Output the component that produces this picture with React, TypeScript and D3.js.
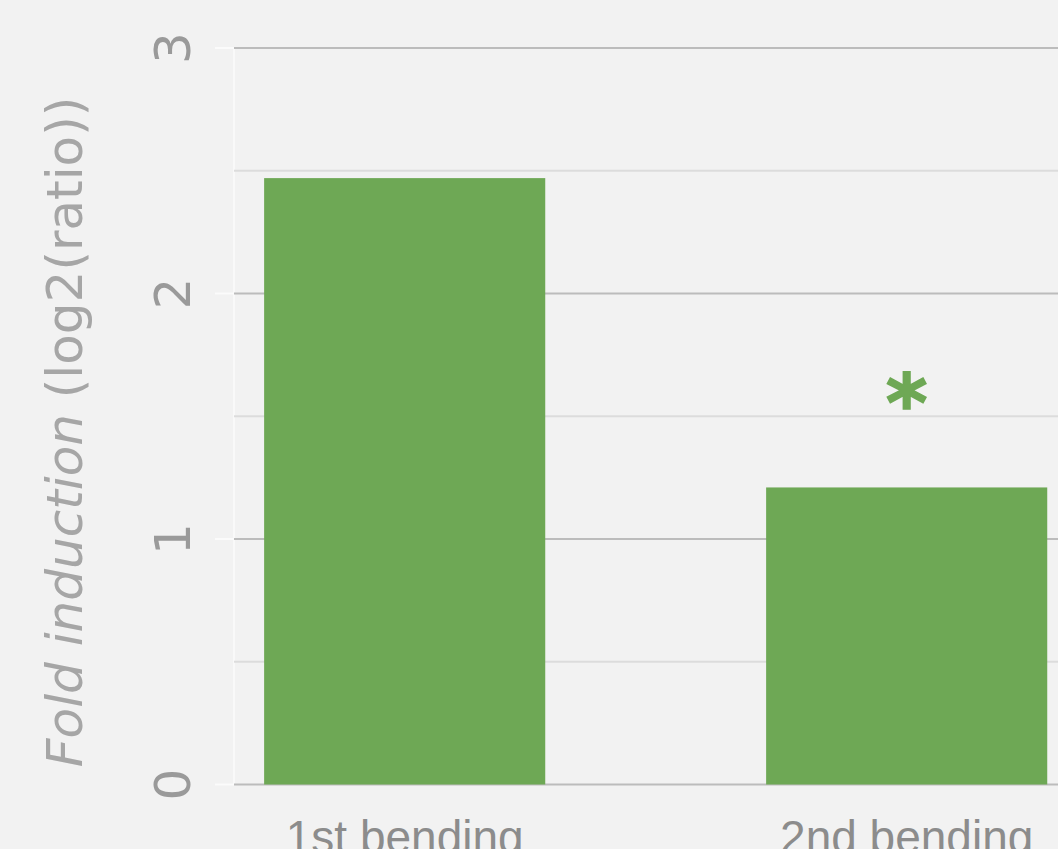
import React from "react";
import * as d3 from "d3";

const categories = ["1st bending", "2nd bending"];
const values = [2.47, 1.21];
const significant = [false, true];
const yTicks = [0, 1, 2, 3];
const yMinorTicks = [0.5, 1.5, 2.5];

const W = 1058;
const H = 849;

export default function App() {
  const left = 234;
  const step = 502;
  const pInner = 0.44;
  const pOuter = 0.06;
  const x = d3
    .scaleBand<string>()
    .domain(categories)
    .range([left, left + step * (categories.length - pInner + 2 * pOuter)])
    .paddingInner(pInner)
    .paddingOuter(pOuter);
  const y = d3.scaleLinear().domain([0, 3]).range([784.5, 48]);

  const green = "#6ea855";
  return (
    <div style={{ position: "fixed", left: 0, top: 0 }}>
      <svg width={W} height={H} style={{ display: "block", background: "#f2f2f2" }}>
        <rect x={0} y={0} width={W} height={H} fill="#f2f2f2" />
        <line x1={left} x2={left} y1={y(3)} y2={y(0)} stroke="#f9f9f9" strokeWidth={2} />
        {yMinorTicks.map((t) => (
          <line key={"m" + t} x1={left} x2={W} y1={y(t)} y2={y(t)} stroke="#dcdcdc" strokeWidth={2} />
        ))}
        {yTicks.map((t) => (
          <g key={"t" + t}>
            <line x1={left} x2={W} y1={y(t)} y2={y(t)} stroke="#bcbcbc" strokeWidth={2} />
            <line x1={215} x2={left} y1={y(t)} y2={y(t)} stroke="#fbfbfb" strokeWidth={2} />
            <text
              transform={`translate(190,${y(t)}) rotate(-90)`}
              textAnchor="middle"
              fontFamily="'DejaVu Sans', sans-serif"
              fontSize={50}
              fill="#9a9a9a"
            >
              {String(t)}
            </text>
          </g>
        ))}
        {categories.map((c, i) => (
          <g key={c}>
            <rect x={x(c)} y={y(values[i])} width={x.bandwidth()} height={y(0) - y(values[i])} fill={green} />
            {significant[i] && (
              <text
                x={(x(c) as number) + x.bandwidth() / 2}
                y={y(values[i]) - 56}
                textAnchor="middle"
                fontFamily="'DejaVu Sans', sans-serif"
                fontWeight="bold"
                fontSize={80}
                fill={green}
                stroke={green}
                strokeWidth={1.5}
              >
                *
              </text>
            )}
            <text
              x={(x(c) as number) + x.bandwidth() / 2}
              y={853}
              textAnchor="middle"
              fontFamily="'Liberation Sans', Arial, sans-serif"
              fontSize={46}
              fill="#8c8c8c"
            >
              {c}
            </text>
          </g>
        ))}
        <text
          transform={`translate(82,432) rotate(-90)`}
          textAnchor="middle"
          fontFamily="'DejaVu Sans', sans-serif"
          fontSize={50}
          fill="#a6a6a6"
        >
          <tspan fontStyle="italic">Fold induction</tspan>
          <tspan> (log2(ratio))</tspan>
        </text>
      </svg>
    </div>
  );
}
